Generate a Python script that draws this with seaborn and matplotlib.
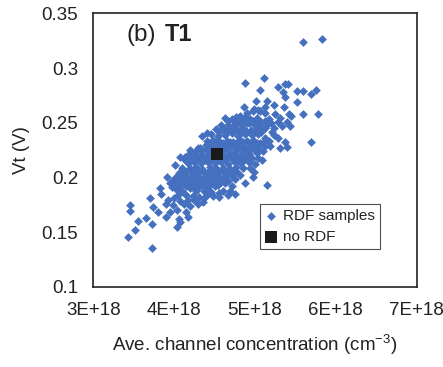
import matplotlib
matplotlib.use("Agg")
import matplotlib.pyplot as plt
import seaborn as sns
import numpy as np
import pandas as pd
from matplotlib.ticker import FixedLocator, FixedFormatter

# ---- data (concentration in units of 1e18 cm^-3, Vt in V) ----
rdf_conc_e18 = [
    5.59, 5.825, 5.11, 4.88, 5.06, 5.28, 5.37, 5.41, 5.35, 5.52, 5.60, 5.75, 5.69, 5.37,
    5.01, 5.15, 5.52, 5.23, 4.87, 5.36, 5.60, 5.78, 5.42, 5.45, 5.69, 5.40, 5.43,
    4.99, 5.04, 5.125,
    4.76, 4.82, 4.90, 4.98, 5.06, 5.125, 5.25, 5.31,
    4.63, 4.71, 4.79, 4.875, 4.94, 5.02, 5.08, 5.17, 5.29,
    4.575, 4.67, 4.73, 4.83, 4.92, 5.00, 5.06, 5.15, 5.23, 5.33,
    4.52, 4.60, 4.69, 4.77, 4.85, 4.95, 5.04, 5.125, 5.21,
    4.34, 4.41, 4.46, 4.54, 4.625, 4.71, 4.79, 4.875, 4.96, 5.04, 5.125, 5.23, 5.29,
    4.40, 4.48, 4.56, 4.65, 4.73, 4.81, 4.90, 4.98, 5.06, 5.17, 5.37,
    4.39, 4.29, 4.46, 4.54, 4.625, 4.71, 4.79, 4.875, 4.96, 5.04, 5.125, 5.19, 5.39, 5.31,
    4.19, 4.27, 4.35, 4.44, 4.60, 4.69, 4.77, 4.85, 4.94, 5.02, 5.10,
    4.075, 4.13, 4.21, 4.29, 4.375, 4.46, 4.625, 4.71, 4.79, 4.875, 4.96, 5.04, 5.09,
    4.17, 4.25, 4.33, 4.42, 4.50, 4.58, 4.67, 4.75, 4.83, 4.92, 5.00,
    4.01, 4.10, 4.19, 4.27, 4.35, 4.44, 4.52, 4.60, 4.69, 4.77, 4.85, 4.94, 4.99,
    4.06, 4.15, 4.23, 4.31, 4.40, 4.48, 4.56, 4.65, 4.73, 4.81, 4.97,
    3.91, 4.00, 4.08, 4.17, 4.25, 4.33, 4.42, 4.50, 4.58, 4.67, 4.75, 4.875,
    3.95, 4.04, 4.125, 4.21, 4.29, 4.375, 4.46, 4.54, 4.625, 4.71, 5.15,
    3.83, 4.02, 4.10, 4.19, 4.27, 4.375, 4.46, 4.55, 4.61, 4.69, 4.75,
    3.84, 4.05, 4.15, 4.23, 4.31, 4.40, 4.48, 4.56, 4.67,
    3.70, 3.925, 4.00, 4.075, 4.17, 4.25, 4.36, 4.37,
    3.74, 3.90, 3.98, 4.12, 4.19, 4.29,
    3.45, 3.45, 3.80, 3.95, 4.04, 4.15,
    3.65, 3.90, 4.06, 4.17,
    3.55, 3.72, 4.075,
    3.52, 4.03, 3.43, 3.73,
    # dense core, in-between rows
    4.67, 4.75, 4.84, 4.90, 4.98, 5.04, 5.12, 5.20,
    4.56, 4.64, 4.73, 4.81, 4.90, 4.99, 5.08,
    4.44, 4.52, 4.60, 4.69, 4.77, 4.85, 4.94, 5.02, 5.10,
    4.32, 4.41, 4.50, 4.58, 4.66, 4.75, 4.83, 4.91, 4.99,
    4.17, 4.25, 4.33, 4.42, 4.50, 4.58, 4.67, 4.75, 4.83, 4.92,
    4.12, 4.21, 4.29, 4.38, 4.46, 4.54, 4.63, 4.71, 4.79, 4.88,
    4.10, 4.19, 4.27, 4.36, 4.44, 4.52, 4.60, 4.69, 4.77,
    4.04, 4.12, 4.21, 4.29, 4.38, 4.46, 4.54, 4.63, 4.71,
    3.99, 4.08, 4.17, 4.25, 4.33, 4.42, 4.50, 4.58,
    3.97, 4.06, 4.15, 4.23, 4.31, 4.42, 4.50,
]
rdf_vt = [
    0.324, 0.327, 0.291, 0.286, 0.280, 0.283, 0.285, 0.285, 0.278, 0.279, 0.279, 0.280, 0.276, 0.274,
    0.270, 0.270, 0.269, 0.266, 0.264, 0.264, 0.258, 0.258, 0.258, 0.256, 0.232, 0.251, 0.247,
    0.263, 0.262, 0.264,
    0.255, 0.256, 0.259, 0.261, 0.261, 0.259, 0.258, 0.254,
    0.254, 0.253, 0.251, 0.255, 0.253, 0.254, 0.251, 0.253, 0.251,
    0.248, 0.248, 0.247, 0.248, 0.250, 0.248, 0.247, 0.248, 0.245, 0.247,
    0.244, 0.245, 0.244, 0.244, 0.245, 0.243, 0.244, 0.245, 0.242,
    0.238, 0.241, 0.240, 0.2375, 0.239, 0.2405, 0.2375, 0.240, 0.2385, 0.240, 0.236, 0.239, 0.236,
    0.233, 0.2345, 0.233, 0.2335, 0.232, 0.2345, 0.233, 0.2345, 0.2315, 0.233, 0.232,
    0.230, 0.227, 0.2285, 0.230, 0.2275, 0.230, 0.2285, 0.227, 0.230, 0.227, 0.2285, 0.229, 0.2275, 0.227,
    0.2253, 0.224, 0.2245, 0.2225, 0.224, 0.2225, 0.224, 0.2225, 0.2255, 0.2225, 0.224,
    0.219, 0.219, 0.2175, 0.219, 0.2175, 0.219, 0.2175, 0.219, 0.2175, 0.219, 0.2175, 0.218, 0.216,
    0.213, 0.2145, 0.213, 0.2145, 0.213, 0.214, 0.212, 0.2145, 0.213, 0.214, 0.212,
    0.2115, 0.209, 0.2083, 0.210, 0.2077, 0.210, 0.2083, 0.209, 0.2077, 0.210, 0.2083, 0.209, 0.205,
    0.2037, 0.2052, 0.2028, 0.2046, 0.2022, 0.2037, 0.2052, 0.2028, 0.2037, 0.2022, 0.200,
    0.200, 0.199, 0.1975, 0.1997, 0.1985, 0.1975, 0.1997, 0.1975, 0.199, 0.1966, 0.199, 0.195,
    0.1945, 0.193, 0.1945, 0.193, 0.1935, 0.1923, 0.1945, 0.193, 0.1945, 0.1923, 0.193,
    0.190, 0.189, 0.188, 0.190, 0.1874, 0.188, 0.1868, 0.1858, 0.188, 0.188, 0.1852,
    0.1846, 0.1837, 0.1843, 0.183, 0.1822, 0.1843, 0.183, 0.1822, 0.1843,
    0.1815, 0.1794, 0.181, 0.1785, 0.1797, 0.1794, 0.1775, 0.181,
    0.1732, 0.176, 0.1745, 0.176, 0.1738, 0.176,
    0.1745, 0.1692, 0.1683, 0.1683, 0.170, 0.1683,
    0.163, 0.1637, 0.1622, 0.1637,
    0.1606, 0.1572, 0.1591,
    0.1523, 0.155, 0.1458, 0.1351,
    # dense core, in-between rows
    0.2515, 0.2505, 0.2515, 0.2495, 0.2515, 0.2505, 0.2512, 0.2498,
    0.2418, 0.2412, 0.2420, 0.2410, 0.2418, 0.2412, 0.2420,
    0.2315, 0.2322, 0.2312, 0.2320, 0.2315, 0.2322, 0.2310, 0.2318, 0.2312,
    0.2265, 0.2258, 0.2268, 0.2260, 0.2265, 0.2258, 0.2268, 0.2262, 0.2258,
    0.2205, 0.2212, 0.2202, 0.2210, 0.2205, 0.2212, 0.2202, 0.2210, 0.2205, 0.2212,
    0.2165, 0.2160, 0.2168, 0.2160, 0.2165, 0.2170, 0.2162, 0.2165, 0.2160, 0.2168,
    0.2060, 0.2065, 0.2058, 0.2062, 0.2068, 0.2058, 0.2062, 0.2065, 0.2058,
    0.2010, 0.2015, 0.2008, 0.2012, 0.2015, 0.2008, 0.2012, 0.2010, 0.2015,
    0.1960, 0.1965, 0.1958, 0.1962, 0.1965, 0.1958, 0.1962, 0.1960,
    0.1915, 0.1912, 0.1918, 0.1910, 0.1915, 0.1912, 0.1918,
]
nordf_conc_e18 = [4.53]
nordf_vt = [0.2213]

x_ticks_e18 = [3.0, 3.5, 4.0, 4.5, 5.0, 5.5, 6.0, 6.5, 7.0]
x_tick_labels = ["3E+18", "", "4E+18", "", "5E+18", "", "6E+18", "", "7E+18"]
y_ticks = [0.1, 0.15, 0.2, 0.25, 0.3, 0.35]
y_tick_labels = ["0.1", "0.15", "0.2", "0.25", "0.3", "0.35"]

BLUE = "#4570C0"

sns.set_style("white")
plt.rcParams["font.family"] = ["Liberation Sans", "DejaVu Sans"]
plt.rcParams["mathtext.fontset"] = "custom"
plt.rcParams["mathtext.rm"] = "Liberation Sans"
plt.rcParams["mathtext.it"] = "Liberation Sans"

df = pd.DataFrame({"conc": np.array(rdf_conc_e18) * 1e18, "vt": rdf_vt})
df0 = pd.DataFrame({"conc": np.array(nordf_conc_e18) * 1e18, "vt": nordf_vt})

fig = plt.figure(figsize=(4.43, 3.67), dpi=100)
ax = fig.add_axes([0.2108, 0.2185, 0.7296, 0.745])

sns.scatterplot(data=df, x="conc", y="vt", marker="D", s=20, color=BLUE,
                linewidth=0, ax=ax, label="RDF samples", zorder=2)
sns.scatterplot(data=df0, x="conc", y="vt", marker="s", s=64, color="#1a1a1a",
                linewidth=0, ax=ax, label="no RDF", zorder=3)

ax.set_xlim(3e18, 7e18)
ax.set_ylim(0.1, 0.35)
ax.xaxis.set_major_locator(FixedLocator([v * 1e18 for v in x_ticks_e18]))
ax.xaxis.set_major_formatter(FixedFormatter(x_tick_labels))
ax.yaxis.set_major_locator(FixedLocator(y_ticks))
ax.yaxis.set_major_formatter(FixedFormatter(y_tick_labels))
ax.xaxis.get_offset_text().set_visible(False)

ax.tick_params(axis="both", direction="in", length=5, width=1.0, color="#222222",
               labelsize=13.5, labelcolor="#222222")
ax.tick_params(axis="x", pad=11)
ax.tick_params(axis="y", pad=11)
for sp in ax.spines.values():
    sp.set_visible(True)
    sp.set_color("#222222")
    sp.set_linewidth(1.2)

ax.set_xlabel("Ave. channel concentration (cm$^{-3}$)", fontsize=13.5, color="#222222", labelpad=10)
ax.set_ylabel("Vt (V)", fontsize=13.5, color="#222222", labelpad=8)

ax.text(0.102, 0.921, "(b)", transform=ax.transAxes, fontsize=17.5, ha="left", va="center", color="#222222")
ax.text(0.2206, 0.921, "T1", transform=ax.transAxes, fontsize=17, fontweight="bold",
        ha="left", va="center", color="#222222")

leg = ax.legend(loc="upper left", bbox_to_anchor=(0.515, 0.304), borderaxespad=0,
                fontsize=11, frameon=True, fancybox=False, borderpad=0.35,
                handlelength=0.8, handletextpad=0.35, labelspacing=0.45)
leg.get_frame().set_edgecolor("#222222")
leg.get_frame().set_linewidth(0.8)
for t in leg.get_texts():
    t.set_color("#222222")

fig.savefig("out.png", dpi=100)
